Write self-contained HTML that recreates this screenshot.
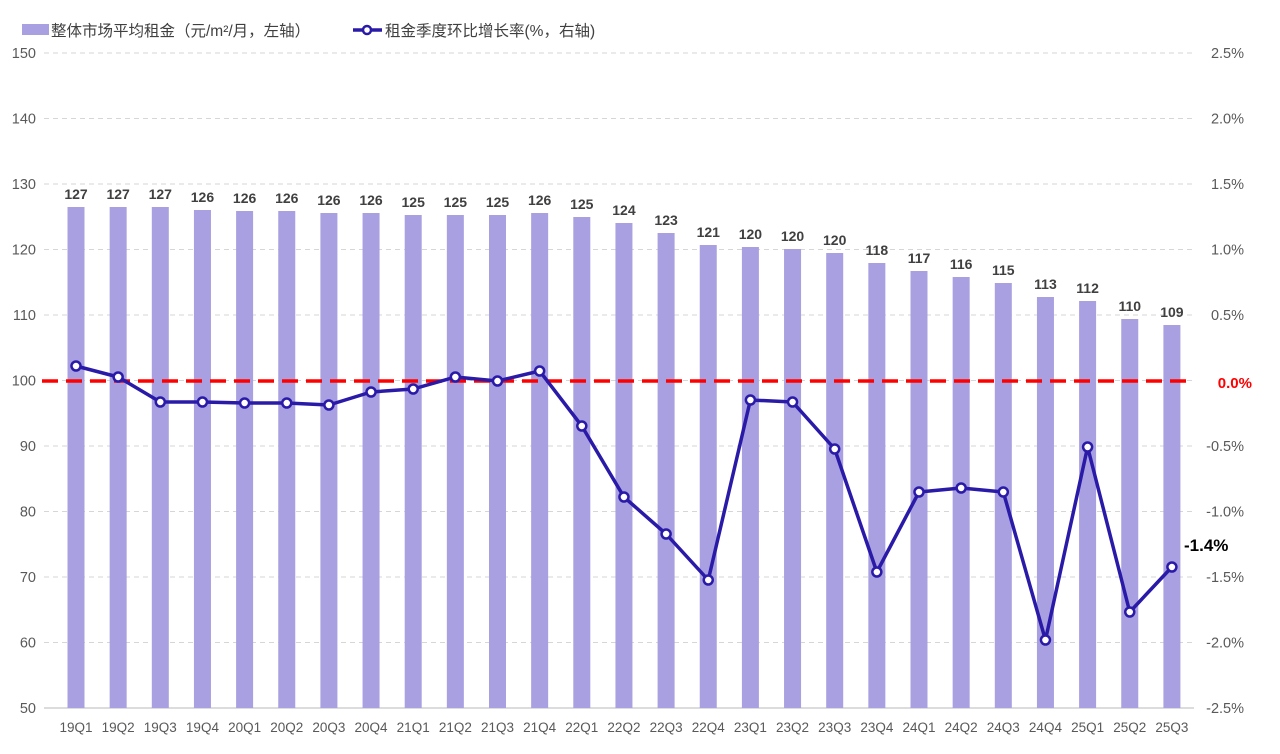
<!DOCTYPE html>
<html><head><meta charset="utf-8"><style>
body{margin:0;background:#fff}
svg text{font-family:"Liberation Sans","Noto Sans CJK SC",sans-serif}
</style></head><body>
<svg width="1280" height="749" xmlns="http://www.w3.org/2000/svg">
<g id="g"></g>
</svg>
<script>
let h='';
const L=44,R=1194;
for(let i=0;i<=10;i++){const y=53+i*65.5;
 if(i<10)h+=`<line x1="${L}" x2="${R}" y1="${y}" y2="${y}" stroke="#d6d6d6" stroke-width="1" stroke-dasharray="5,4"/>`;
 h+=`<text x="36" y="${y+5}" text-anchor="end" font-size="14.5" fill="#595959">${150-i*10}</text>`;
 const p=(2.5-i*0.5).toFixed(1);
 if(p!=='0.0')h+=`<text x="1244" y="${y+5}" text-anchor="end" font-size="14.5" fill="#595959">${p}%</text>`;
}
h+=`<line x1="${L}" x2="${R}" y1="708" y2="708" stroke="#d0d0d0" stroke-width="1.5"/>`;
const labs=[];for(let y=19;y<=25;y++)for(let q=1;q<=4;q++)labs.push(`${y}Q${q}`);labs.length=27;
const tops=[207,207,207,210,211,211,213,213,215,215,215,213,217,223,233,245,247,249,253,263,271,277,283,297,301,319,325];
const vals=[127,127,127,126,126,126,126,126,125,125,125,126,125,124,123,121,120,120,120,118,117,116,115,113,112,110,109];
const ly=[366,377,402,402,403,403,405,392,389,377,381,371,426,497,534,580,400,402,449,572,492,488,492,640,447,612,567];
const cx=i=>76+i*42.15;
tops.forEach((t,i)=>{const x=cx(i);
 h+=`<rect x="${x-8.5}" y="${t}" width="17" height="${708-t}" fill="#a8a0e0"/>`;
 h+=`<text x="${x}" y="${t-8}" text-anchor="middle" font-size="14" font-weight="bold" fill="#404040">${vals[i]}</text>`;
 h+=`<text x="${x}" y="732" text-anchor="middle" font-size="13.5" fill="#595959">${labs[i]}</text>`;
});
h+=`<line x1="42" x2="1194" y1="381" y2="381" stroke="#ff0000" stroke-width="3.5" stroke-dasharray="16,8"/>`;
h+=`<text x="1252" y="388" text-anchor="end" font-size="15" font-weight="bold" fill="#ff0000">0.0%</text>`;
h+=`<polyline fill="none" stroke="#2a1aa8" stroke-width="3.5" stroke-linejoin="round" points="${ly.map((y,i)=>cx(i)+','+y).join(' ')}"/>`;
ly.forEach((y,i)=>h+=`<circle cx="${cx(i)}" cy="${y}" r="4.5" fill="#fff" stroke="#2a1aa8" stroke-width="2.5"/>`);
h+=`<text x="1184" y="551" font-size="17" font-weight="bold" fill="#000">-1.4%</text>`;
h+=`<rect x="22" y="24" width="27" height="11" fill="#a8a0e0"/><text x="51" y="36" font-size="15.5" fill="#404040">整体市场平均租金（元/m²/月，左轴）</text>`;
h+=`<line x1="353" x2="382" y1="30" y2="30" stroke="#2a1aa8" stroke-width="3.5"/><circle cx="367" cy="30" r="4" fill="#fff" stroke="#2a1aa8" stroke-width="2.5"/><text x="385" y="36" font-size="15.5" fill="#404040">租金季度环比增长率(%，右轴)</text>`;
document.getElementById('g').innerHTML=h;
</script>
</body></html>
